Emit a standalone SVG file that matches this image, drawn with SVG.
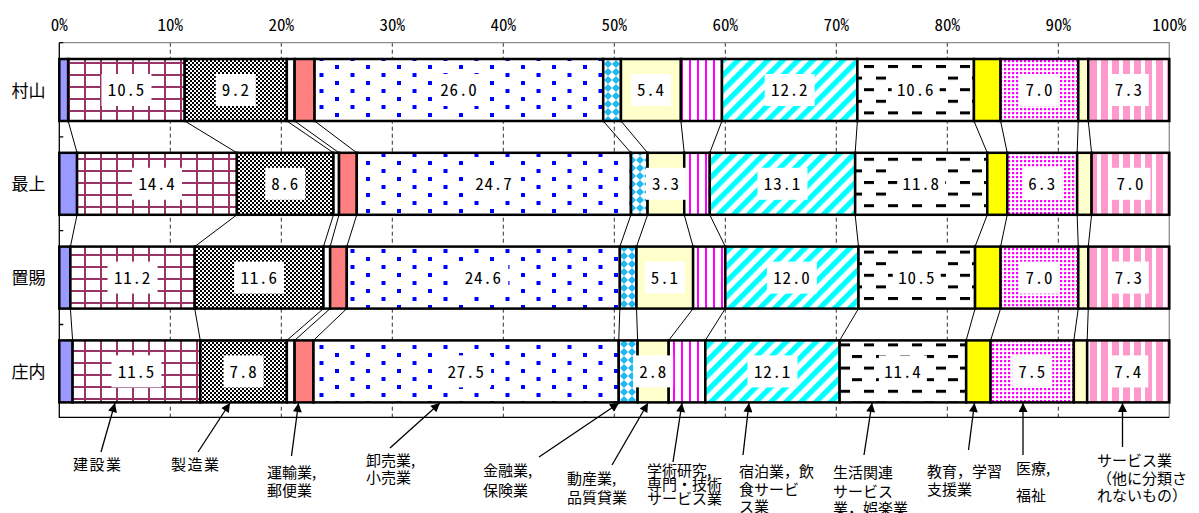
<svg xmlns="http://www.w3.org/2000/svg" width="1199" height="513" viewBox="0 0 1199 513">
<style>
.seg{stroke:#000;stroke-width:2.5}
.lb{fill:#fff}
.num{font-family:'Noto Sans Mono CJK JP','Liberation Mono',monospace;font-size:17px;fill:#000;text-anchor:middle;letter-spacing:0.8px}
.ax{font-family:'Noto Sans Mono CJK JP','Liberation Mono',monospace;font-size:17px;fill:#000;text-anchor:middle}
.rl{font-family:'Noto Sans CJK JP',sans-serif;font-size:17px;fill:#000}
.cl{font-family:'Noto Sans CJK JP',sans-serif;font-size:15px;fill:#000}
.grid{stroke:#333;stroke-width:1;stroke-dasharray:4 3}
.sl{stroke:#000;stroke-width:1;fill:none}
.ar{stroke:#000;stroke-width:1.3;fill:none;marker-end:url(#ah)}
</style>
<defs>
<marker id="ah" viewBox="0 0 10 10" refX="10" refY="5" markerWidth="11" markerHeight="9" markerUnits="userSpaceOnUse" orient="auto"><path d="M0,0 L10,5 L0,10 z" fill="#000"/></marker>
<pattern id="pGrid" patternUnits="userSpaceOnUse" width="16" height="12" x="68" y="62"><rect width="16" height="12" fill="#fff"/><rect x="0" y="0" width="2" height="12" fill="#993366"/><rect x="0" y="0" width="16" height="2" fill="#993366"/></pattern>
<pattern id="pCheck" patternUnits="userSpaceOnUse" width="4" height="4"><rect width="4" height="4" fill="#000"/><rect x="0" y="0" width="2" height="2" fill="#fff"/><rect x="2" y="2" width="2" height="2" fill="#fff"/></pattern>
<pattern id="pDots" patternUnits="userSpaceOnUse" width="31" height="16" x="335" y="65"><rect width="31" height="16" fill="#fff"/><rect x="0" y="0" width="4" height="4" fill="#0000FF"/><rect x="15.5" y="8" width="4" height="4" fill="#0000FF"/></pattern>
<pattern id="pDia" patternUnits="userSpaceOnUse" width="8" height="8" x="604" y="60"><rect width="8" height="8" fill="#fff"/><path d="M4,0 L8,4 L4,8 L0,4 z" fill="#1FB8F0"/></pattern>
<pattern id="pVs" patternUnits="userSpaceOnUse" width="8" height="8" x="689"><rect width="8" height="8" fill="#fff"/><rect x="0" y="0" width="2" height="8" fill="#FF00FF"/></pattern>
<pattern id="pDiag" patternUnits="userSpaceOnUse" width="10.6" height="10.6" patternTransform="rotate(45)"><rect width="10.6" height="10.6" fill="#fff"/><rect x="0" y="0" width="5.3" height="10.6" fill="#00FFFF"/></pattern>
<pattern id="pDash" patternUnits="userSpaceOnUse" width="24" height="23.2" x="864" y="65"><rect width="24" height="23.2" fill="#fff"/><rect x="0" y="0" width="10" height="3" fill="#000"/><rect x="12" y="11.6" width="10" height="3" fill="#000"/></pattern>
<pattern id="pMd" patternUnits="userSpaceOnUse" width="4" height="4"><rect width="4" height="4" fill="#fff"/><rect x="0" y="0" width="2.2" height="2.2" fill="#FF00FF"/></pattern>
<pattern id="pPk" patternUnits="userSpaceOnUse" width="11" height="8" x="1090"><rect width="11" height="8" fill="#fff"/><rect x="0" y="0" width="7" height="8" fill="#FF99CC"/></pattern>
</defs>
<rect width="1199" height="513" fill="#fff"/>

<g id="axis">
<line class="grid" x1="170.3" y1="42.7" x2="170.3" y2="417.3"/>
<line class="grid" x1="281.3" y1="42.7" x2="281.3" y2="417.3"/>
<line class="grid" x1="392.3" y1="42.7" x2="392.3" y2="417.3"/>
<line class="grid" x1="503.3" y1="42.7" x2="503.3" y2="417.3"/>
<line class="grid" x1="614.3" y1="42.7" x2="614.3" y2="417.3"/>
<line class="grid" x1="725.3" y1="42.7" x2="725.3" y2="417.3"/>
<line class="grid" x1="836.3" y1="42.7" x2="836.3" y2="417.3"/>
<line class="grid" x1="947.3" y1="42.7" x2="947.3" y2="417.3"/>
<line class="grid" x1="1058.3" y1="42.7" x2="1058.3" y2="417.3"/>
<path d="M59.3,42.7 H1169.3 V417.3" stroke="#8c8c8c" stroke-width="1.3" fill="none"/>
<path d="M59.3,42.7 V417.3 H1169.3" stroke="#000" stroke-width="1.3" fill="none"/>
<path d="M59.3,42.7 h4 M59.3,136.9 h4 M59.3,230.7 h4 M59.3,324.5 h4" stroke="#000" stroke-width="1.3"/>
<text class="ax" x="59.3" y="31">0%</text>
<text class="ax" x="170.3" y="31">10%</text>
<text class="ax" x="281.3" y="31">20%</text>
<text class="ax" x="392.3" y="31">30%</text>
<text class="ax" x="503.3" y="31">40%</text>
<text class="ax" x="614.3" y="31">50%</text>
<text class="ax" x="725.3" y="31">60%</text>
<text class="ax" x="836.3" y="31">70%</text>
<text class="ax" x="947.3" y="31">80%</text>
<text class="ax" x="1058.3" y="31">90%</text>
<text class="ax" x="1169.3" y="31">100%</text>
</g>

<g id="connectors">
<path class="sl" d="M68.18,121 L77.06,152.8 M184.73,121 L236.9,152.8 M286.85,121 L333.47,152.8 M294.62,121 L339.02,152.8 M314.6,121 L356.78,152.8 M603.2,121 L630.95,152.8 M620.96,121 L647.6,152.8 M680.9,121 L684.23,152.8 M721.97,121 L709.76,152.8 M857.39,121 L855.17,152.8 M973.94,121 L987.26,152.8 M1000.58,121 L1007.24,152.8 M1078.28,121 L1077.17,152.8 M1088.27,121 L1091.6,152.8"/>
<path class="sl" d="M77.06,214.8 L70.4,246.6 M236.9,214.8 L194.72,246.6 M333.47,214.8 L323.48,246.6 M339.02,214.8 L330.14,246.6 M356.78,214.8 L346.79,246.6 M630.95,214.8 L619.85,246.6 M647.6,214.8 L636.5,246.6 M684.23,214.8 L693.11,246.6 M709.76,214.8 L725.3,246.6 M855.17,214.8 L858.5,246.6 M987.26,214.8 L975.05,246.6 M1007.24,214.8 L1000.58,246.6 M1077.17,214.8 L1078.28,246.6 M1091.6,214.8 L1088.27,246.6"/>
<path class="sl" d="M70.4,308.6 L72.62,340.4 M194.72,308.6 L200.27,340.4 M323.48,308.6 L286.85,340.4 M330.14,308.6 L294.62,340.4 M346.79,308.6 L313.49,340.4 M619.85,308.6 L618.74,340.4 M636.5,308.6 L637.61,340.4 M693.11,308.6 L668.69,340.4 M725.3,308.6 L705.32,340.4 M858.5,308.6 L839.63,340.4 M975.05,308.6 L966.17,340.4 M1000.58,308.6 L990.59,340.4 M1078.28,308.6 L1073.84,340.4 M1088.27,308.6 L1087.16,340.4"/>
<line class="ar" x1="101" y1="452" x2="115" y2="403"/>
<line class="ar" x1="198" y1="452" x2="230" y2="403"/>
<line class="ar" x1="291.5" y1="456" x2="298.5" y2="403"/>
<line class="ar" x1="390" y1="448" x2="440" y2="403"/>
<line class="ar" x1="539" y1="457" x2="619" y2="403"/>
<line class="ar" x1="612" y1="465" x2="648" y2="403"/>
<line class="ar" x1="673" y1="462" x2="682" y2="403"/>
<line class="ar" x1="743" y1="455" x2="749" y2="403"/>
<line class="ar" x1="864" y1="455" x2="872" y2="403"/>
<line class="ar" x1="968.5" y1="450" x2="974.5" y2="403"/>
<line class="ar" x1="1023" y1="455" x2="1023" y2="403"/>
<line class="ar" x1="1122.5" y1="447" x2="1122.5" y2="403"/>
</g>

<g id="row-murayama">
<text class="rl" x="11.5" y="96.5">村山</text>
<rect class="seg" x="59.3" y="59" width="8.88" height="62" fill="#9999FF"/>
<rect class="seg" x="68.18" y="59" width="116.55" height="62" fill="url(#pGrid)"/>
<rect class="seg" x="184.73" y="59" width="102.12" height="62" fill="url(#pCheck)"/>
<rect class="seg" x="286.85" y="59" width="7.77" height="62" fill="#fff"/>
<rect class="seg" x="294.62" y="59" width="19.98" height="62" fill="#FF8080"/>
<rect class="seg" x="314.6" y="59" width="288.6" height="62" fill="url(#pDots)"/>
<rect class="seg" x="603.2" y="59" width="17.76" height="62" fill="url(#pDia)"/>
<rect class="seg" x="620.96" y="59" width="59.94" height="62" fill="#FFFFCC"/>
<rect class="seg" x="680.9" y="59" width="41.07" height="62" fill="url(#pVs)"/>
<rect class="seg" x="721.97" y="59" width="135.42" height="62" fill="url(#pDiag)"/>
<rect class="seg" x="857.39" y="59" width="116.55" height="62" fill="url(#pDash)"/>
<rect class="seg" x="973.94" y="59" width="26.64" height="62" fill="#FFFF00"/>
<rect class="seg" x="1000.58" y="59" width="77.7" height="62" fill="url(#pMd)"/>
<rect class="seg" x="1078.28" y="59" width="9.99" height="62" fill="#FFFFCC"/>
<rect class="seg" x="1088.27" y="59" width="81.03" height="62" fill="url(#pPk)"/>
<rect class="lb" x="101.46" y="74" width="50" height="32"/><text class="num" x="126.46" y="96.3">10.5</text>
<rect class="lb" x="215.79" y="74" width="40" height="32"/><text class="num" x="235.79" y="96.3">9.2</text>
<rect class="lb" x="433.9" y="74" width="50" height="32"/><text class="num" x="458.9" y="96.3">26.0</text>
<rect class="lb" x="630.93" y="74" width="40" height="32"/><text class="num" x="650.93" y="96.3">5.4</text>
<rect class="lb" x="764.68" y="74" width="50" height="32"/><text class="num" x="789.68" y="96.3">12.2</text>
<rect class="lb" x="891.67" y="74" width="48" height="32"/><text class="num" x="915.67" y="96.3">10.6</text>
<rect class="lb" x="1019.43" y="74" width="40" height="32"/><text class="num" x="1039.43" y="96.3">7.0</text>
<rect class="lb" x="1108.79" y="74" width="40" height="32"/><text class="num" x="1128.79" y="96.3">7.3</text>
</g>

<g id="row-mogami">
<text class="rl" x="11.5" y="190.3">最上</text>
<rect class="seg" x="59.3" y="152.8" width="17.76" height="62" fill="#9999FF"/>
<rect class="seg" x="77.06" y="152.8" width="159.84" height="62" fill="url(#pGrid)"/>
<rect class="seg" x="236.9" y="152.8" width="96.57" height="62" fill="url(#pCheck)"/>
<rect class="seg" x="333.47" y="152.8" width="5.55" height="62" fill="#fff"/>
<rect class="seg" x="339.02" y="152.8" width="17.76" height="62" fill="#FF8080"/>
<rect class="seg" x="356.78" y="152.8" width="274.17" height="62" fill="url(#pDots)"/>
<rect class="seg" x="630.95" y="152.8" width="16.65" height="62" fill="url(#pDia)"/>
<rect class="seg" x="647.6" y="152.8" width="36.63" height="62" fill="#FFFFCC"/>
<rect class="seg" x="684.23" y="152.8" width="25.53" height="62" fill="url(#pVs)"/>
<rect class="seg" x="709.76" y="152.8" width="145.41" height="62" fill="url(#pDiag)"/>
<rect class="seg" x="855.17" y="152.8" width="132.09" height="62" fill="url(#pDash)"/>
<rect class="seg" x="987.26" y="152.8" width="19.98" height="62" fill="#FFFF00"/>
<rect class="seg" x="1007.24" y="152.8" width="69.93" height="62" fill="url(#pMd)"/>
<rect class="seg" x="1077.17" y="152.8" width="14.43" height="62" fill="#FFFFCC"/>
<rect class="seg" x="1091.6" y="152.8" width="77.7" height="62" fill="url(#pPk)"/>
<rect class="lb" x="131.98" y="167.8" width="50" height="32"/><text class="num" x="156.98" y="190.1">14.4</text>
<rect class="lb" x="265.19" y="167.8" width="40" height="32"/><text class="num" x="285.19" y="190.1">8.6</text>
<rect class="lb" x="468.87" y="167.8" width="50" height="32"/><text class="num" x="493.87" y="190.1">24.7</text>
<rect class="lb" x="645.92" y="167.8" width="40" height="32"/><text class="num" x="665.92" y="190.1">3.3</text>
<rect class="lb" x="757.47" y="167.8" width="50" height="32"/><text class="num" x="782.47" y="190.1">13.1</text>
<rect class="lb" x="897.22" y="167.8" width="48" height="32"/><text class="num" x="921.22" y="190.1">11.8</text>
<rect class="lb" x="1022.2" y="167.8" width="40" height="32"/><text class="num" x="1042.2" y="190.1">6.3</text>
<rect class="lb" x="1110.45" y="167.8" width="40" height="32"/><text class="num" x="1130.45" y="190.1">7.0</text>
</g>

<g id="row-okitama">
<text class="rl" x="11.5" y="284.1">置賜</text>
<rect class="seg" x="59.3" y="246.6" width="11.1" height="62" fill="#9999FF"/>
<rect class="seg" x="70.4" y="246.6" width="124.32" height="62" fill="url(#pGrid)"/>
<rect class="seg" x="194.72" y="246.6" width="128.76" height="62" fill="url(#pCheck)"/>
<rect class="seg" x="323.48" y="246.6" width="6.66" height="62" fill="#fff"/>
<rect class="seg" x="330.14" y="246.6" width="16.65" height="62" fill="#FF8080"/>
<rect class="seg" x="346.79" y="246.6" width="273.06" height="62" fill="url(#pDots)"/>
<rect class="seg" x="619.85" y="246.6" width="16.65" height="62" fill="url(#pDia)"/>
<rect class="seg" x="636.5" y="246.6" width="56.61" height="62" fill="#FFFFCC"/>
<rect class="seg" x="693.11" y="246.6" width="32.19" height="62" fill="url(#pVs)"/>
<rect class="seg" x="725.3" y="246.6" width="133.2" height="62" fill="url(#pDiag)"/>
<rect class="seg" x="858.5" y="246.6" width="116.55" height="62" fill="url(#pDash)"/>
<rect class="seg" x="975.05" y="246.6" width="25.53" height="62" fill="#FFFF00"/>
<rect class="seg" x="1000.58" y="246.6" width="77.7" height="62" fill="url(#pMd)"/>
<rect class="seg" x="1078.28" y="246.6" width="9.99" height="62" fill="#FFFFCC"/>
<rect class="seg" x="1088.27" y="246.6" width="81.03" height="62" fill="url(#pPk)"/>
<rect class="lb" x="107.56" y="261.6" width="50" height="32"/><text class="num" x="132.56" y="283.9">11.2</text>
<rect class="lb" x="234.1" y="261.6" width="50" height="32"/><text class="num" x="259.1" y="283.9">11.6</text>
<rect class="lb" x="458.32" y="261.6" width="50" height="32"/><text class="num" x="483.32" y="283.9">24.6</text>
<rect class="lb" x="644.8" y="261.6" width="40" height="32"/><text class="num" x="664.8" y="283.9">5.1</text>
<rect class="lb" x="766.9" y="261.6" width="50" height="32"/><text class="num" x="791.9" y="283.9">12.0</text>
<rect class="lb" x="892.78" y="261.6" width="48" height="32"/><text class="num" x="916.78" y="283.9">10.5</text>
<rect class="lb" x="1019.43" y="261.6" width="40" height="32"/><text class="num" x="1039.43" y="283.9">7.0</text>
<rect class="lb" x="1108.79" y="261.6" width="40" height="32"/><text class="num" x="1128.79" y="283.9">7.3</text>
</g>

<g id="row-shonai">
<text class="rl" x="11.5" y="377.9">庄内</text>
<rect class="seg" x="59.3" y="340.4" width="13.32" height="62" fill="#9999FF"/>
<rect class="seg" x="72.62" y="340.4" width="127.65" height="62" fill="url(#pGrid)"/>
<rect class="seg" x="200.27" y="340.4" width="86.58" height="62" fill="url(#pCheck)"/>
<rect class="seg" x="286.85" y="340.4" width="7.77" height="62" fill="#fff"/>
<rect class="seg" x="294.62" y="340.4" width="18.87" height="62" fill="#FF8080"/>
<rect class="seg" x="313.49" y="340.4" width="305.25" height="62" fill="url(#pDots)"/>
<rect class="seg" x="618.74" y="340.4" width="18.87" height="62" fill="url(#pDia)"/>
<rect class="seg" x="637.61" y="340.4" width="31.08" height="62" fill="#FFFFCC"/>
<rect class="seg" x="668.69" y="340.4" width="36.63" height="62" fill="url(#pVs)"/>
<rect class="seg" x="705.32" y="340.4" width="134.31" height="62" fill="url(#pDiag)"/>
<rect class="seg" x="839.63" y="340.4" width="126.54" height="62" fill="url(#pDash)"/>
<rect class="seg" x="966.17" y="340.4" width="24.42" height="62" fill="#FFFF00"/>
<rect class="seg" x="990.59" y="340.4" width="83.25" height="62" fill="url(#pMd)"/>
<rect class="seg" x="1073.84" y="340.4" width="13.32" height="62" fill="#FFFFCC"/>
<rect class="seg" x="1087.16" y="340.4" width="82.14" height="62" fill="url(#pPk)"/>
<rect class="lb" x="111.45" y="355.4" width="50" height="32"/><text class="num" x="136.45" y="377.7">11.5</text>
<rect class="lb" x="223.56" y="355.4" width="40" height="32"/><text class="num" x="243.56" y="377.7">7.8</text>
<rect class="lb" x="441.12" y="355.4" width="50" height="32"/><text class="num" x="466.12" y="377.7">27.5</text>
<rect class="lb" x="633.15" y="355.4" width="40" height="32"/><text class="num" x="653.15" y="377.7">2.8</text>
<rect class="lb" x="747.48" y="355.4" width="50" height="32"/><text class="num" x="772.48" y="377.7">12.1</text>
<rect class="lb" x="878.9" y="355.4" width="48" height="32"/><text class="num" x="902.9" y="377.7">11.4</text>
<rect class="lb" x="1012.2" y="355.4" width="40" height="32"/><text class="num" x="1032.2" y="377.7">7.5</text>
<rect class="lb" x="1108.23" y="355.4" width="40" height="32"/><text class="num" x="1128.23" y="377.7">7.4</text>
</g>

<g id="label-kensetsu"><text class="cl" x="73" y="469.7" letter-spacing="1.5">建設業</text></g>
<g id="label-seizo"><text class="cl" x="171" y="469.7" letter-spacing="1.5">製造業</text></g>
<g id="label-unyu"><text class="cl" x="267" y="477.7">運輸業,</text><text class="cl" x="267" y="495.7">郵便業</text></g>
<g id="label-oroshi"><text class="cl" x="366" y="465.7">卸売業,</text><text class="cl" x="366" y="482.7">小売業</text></g>
<g id="label-kinyu"><text class="cl" x="483" y="475.7">金融業,</text><text class="cl" x="483" y="495.7">保険業</text></g>
<g id="label-fudosan"><text class="cl" x="567" y="483.7">動産業,</text><text class="cl" x="567" y="502.7">品質貸業</text></g>
<g id="label-gakujutsu"><text class="cl" x="647" y="475.7">学術研究,</text><text class="cl" x="647" y="489.7">専門・技術</text><text class="cl" x="647" y="503.7">サービス業</text></g>
<g id="label-shukuhaku"><text class="cl" x="739" y="476.7">宿泊業，飲</text><text class="cl" x="739" y="494.7">食サービ</text><text class="cl" x="739" y="511.7">ス業</text></g>
<g id="label-seikatsu"><text class="cl" x="833" y="477.7">生活関連</text><text class="cl" x="833" y="496.7">サービス</text><text class="cl" x="833" y="513.7">業，娯楽業</text></g>
<g id="label-kyoiku"><text class="cl" x="927" y="476.7">教育，学習</text><text class="cl" x="927" y="494.7">支援業</text></g>
<g id="label-iryo"><text class="cl" x="1016" y="473.7">医療,</text><text class="cl" x="1016" y="500.7">福祉</text></g>
<g id="label-service"><text class="cl" x="1097" y="465.7">サービス業</text><text class="cl" x="1097" y="483.7">（他に分類さ</text><text class="cl" x="1097" y="500.7">れないもの）</text></g>
</svg>
